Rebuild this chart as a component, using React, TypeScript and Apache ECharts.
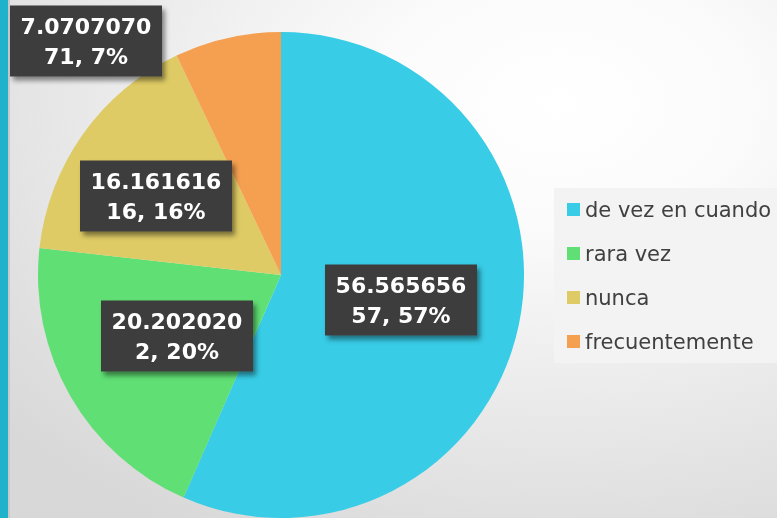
import React, { useEffect, useRef } from "react";
import * as echarts from "echarts";

const categories = ["de vez en cuando", "rara vez", "nunca", "frecuentemente"];
const values = [56.565656, 20.20202, 16.161616, 7.070707];
const valueTexts = ["56.565656", "20.202020", "16.161616", "7.0707070"];
const secondTexts = ["57", "2", "16", "71"];
const colors = ["#38CCE6", "#60DF74", "#DECB65", "#F5A050"];

// label box centres (moved labels, as in the reference)
const labelCenters: [number, number][] = [
  [401, 300],
  [177, 336],
  [156, 196],
  [86, 41],
];

export default function App() {
  const ref = useRef<HTMLDivElement>(null);
  useEffect(() => {
    if (!ref.current) return;
    const chart = echarts.init(ref.current, undefined, { renderer: "svg" });
    chart.setOption({
      animation: false,
      backgroundColor: {
        type: "radial",
        x: 0.72,
        y: 0.2,
        r: 0.95,
        colorStops: [
          { offset: 0, color: "#ffffff" },
          { offset: 0.25, color: "#fbfbfb" },
          { offset: 1, color: "#d8d8d8" },
        ],
      },
      color: colors,
      legend: {
        orient: "vertical",
        left: 554,
        top: 188,
        padding: [11, 30, 11, 13],
        backgroundColor: "#f3f3f3",
        itemWidth: 13,
        itemHeight: 13,
        itemGap: 23,
        icon: "rect",
        data: categories,
        textStyle: {
          fontFamily: "DejaVu Sans",
          fontSize: 21,
          lineHeight: 21,
          color: "#404040",
        },
      },
      graphic: [
        { type: "rect", left: 0, top: 0, shape: { width: 8, height: 518 }, style: { fill: "#1EB2CB" } },
        { type: "rect", left: 8, top: 0, shape: { width: 2, height: 518 }, style: { fill: "#c9c9c9" } },
      ],
      series: [
        {
          type: "pie",
          center: [281, 275],
          radius: 243,
          startAngle: 90,
          clockwise: true,
          percentPrecision: 0,
          avoidLabelOverlap: false,
          labelLine: { show: false },
          data: categories.map((name, i) => ({ name, value: values[i] })),
          label: {
            show: true,
            position: "inside",
            formatter: (p: any) =>
              valueTexts[p.dataIndex] + "\n" + secondTexts[p.dataIndex] + ", " + p.percent + "%",
            color: "#ffffff",
            fontFamily: "DejaVu Sans",
            fontWeight: "bold",
            fontSize: 22,
            lineHeight: 30,
            width: 132,
            align: "center",
            verticalAlign: "middle",
            backgroundColor: "#3d3d3d",
            padding: [6, 10, 5, 10],
            shadowColor: "rgba(0,0,0,0.45)",
            shadowBlur: 5,
            shadowOffsetX: 3,
            shadowOffsetY: 4,
          },
          labelLayout: (params: any) => {
            const c = labelCenters[params.dataIndex];
            return { x: c[0], y: c[1], align: "center", verticalAlign: "middle" };
          },
        },
      ],
    });
    return () => chart.dispose();
  }, []);
  return (
    <div
      ref={ref}
      style={{ position: "fixed", left: 0, top: 0, width: 777, height: 518 }}
    />
  );
}
